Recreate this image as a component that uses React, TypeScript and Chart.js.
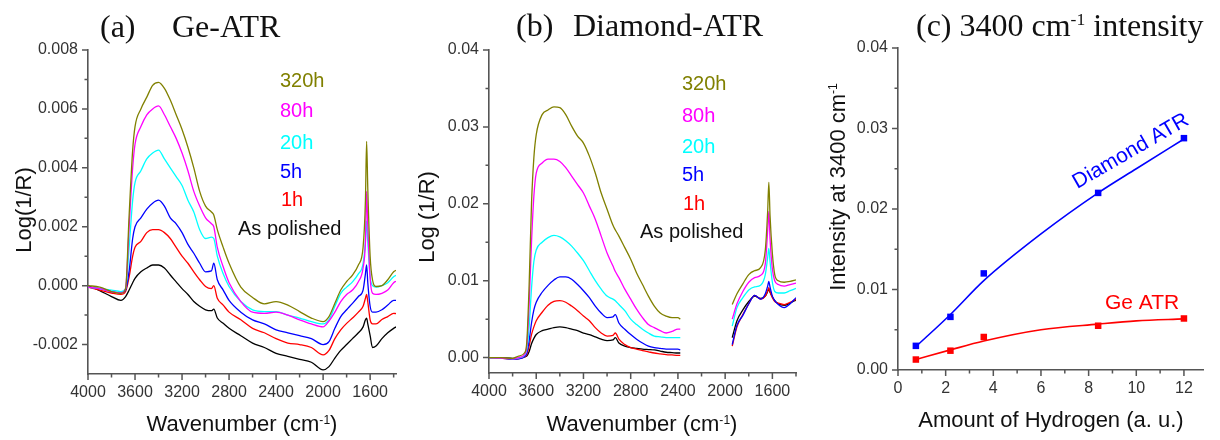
import React, { useEffect, useRef } from 'react';
import { Chart, registerables } from 'chart.js';

Chart.register(...registerables);

const SANS = "'Liberation Sans', Arial, sans-serif";
const SERIF = "'Liberation Serif', 'Times New Roman', serif";
const AXIS_COLOR = '#555555';
const TICK_COLOR = '#333333';

// ---------- shared series description ----------
const SERIES_LABELS = ['320h', '80h', '20h', '5h', '1h', 'As polished'];
const SERIES_COLORS = ['#808000', '#ff00ff', '#00ffff', '#0000ff', '#ff0000', '#000000'];

// ---------- (a) Ge-ATR, values in units of 1e-3 ----------
const GE_WN = [4000, 3900, 3800, 3720, 3680, 3650, 3620, 3600, 3550, 3500, 3450, 3400, 3350, 3300, 3250, 3200, 3150, 3100, 3050, 3000, 2950, 2930, 2900, 2850, 2800, 2700, 2600, 2500, 2400, 2300, 2200, 2100, 2000, 1950, 1900, 1850, 1800, 1750, 1700, 1660, 1640, 1630, 1620, 1600, 1580, 1550, 1500, 1450, 1400, 1380];
const GE_320H = [0, -0.05, -0.2, -0.26, -0.1, 2.4, 4.6, 5.4, 6.0, 6.4, 6.8, 6.9, 6.7, 6.3, 5.8, 5.3, 4.7, 4.0, 3.2, 2.7, 2.5, 2.4, 1.9, 1.3, 0.76, -0.05, -0.4, -0.62, -0.54, -0.66, -0.88, -1.1, -1.22, -1.05, -0.6, -0.15, 0.14, 0.36, 0.7, 1.3, 2.9, 4.9, 3.3, 1.0, 0.2, -0.03, 0.0, 0.2, 0.47, 0.52];
const GE_80H = [-0.05, -0.1, -0.2, -0.25, -0.1, 2.0, 4.0, 4.8, 5.4, 5.8, 6.0, 6.1, 5.8, 5.4, 5.0, 4.5, 3.9, 3.2, 2.7, 2.3, 2.1, 2.0, 1.3, 0.64, 0.1, -0.54, -0.9, -0.94, -0.9, -1.0, -1.16, -1.3, -1.4, -1.2, -0.9, -0.54, -0.3, -0.15, 0.13, 0.6, 1.5, 3.2, 2.0, 0.25, -0.26, -0.3, -0.26, -0.15, 0.1, 0.15];
const GE_20H = [-0.05, -0.1, -0.15, -0.2, -0.1, 1.3, 2.9, 3.5, 3.9, 4.3, 4.5, 4.6, 4.3, 4.0, 3.7, 3.4, 2.9, 2.5, 1.9, 1.6, 1.65, 1.6, 1.0, 0.4, -0.03, -0.54, -0.82, -0.88, -0.88, -1.0, -1.1, -1.22, -1.3, -1.15, -0.7, -0.26, -0.05, 0.13, 0.4, 0.75, 1.5, 2.2, 1.5, 0.3, 0.0, -0.05, 0.0, 0.1, 0.3, 0.35];
const GE_5H = [-0.05, -0.1, -0.2, -0.25, -0.15, 0.5, 1.6, 2.0, 2.3, 2.6, 2.8, 2.9, 2.7, 2.3, 2.1, 1.8, 1.4, 1.1, 0.76, 0.47, 0.5, 0.76, 0.2, -0.15, -0.5, -0.9, -1.16, -1.3, -1.5, -1.6, -1.7, -1.8, -2.0, -1.9, -1.45, -1.05, -0.82, -0.6, -0.37, -0.15, 0.4, 0.7, 0.1, -0.7, -0.9, -0.9, -0.82, -0.66, -0.5, -0.5];
const GE_1H = [-0.05, -0.15, -0.25, -0.3, -0.2, 0.3, 1.0, 1.3, 1.5, 1.8, 1.9, 1.9, 1.8, 1.6, 1.3, 1.0, 0.76, 0.47, 0.2, -0.03, -0.1, 0.0, -0.43, -0.66, -0.9, -1.16, -1.45, -1.6, -1.8, -1.95, -2.0, -2.1, -2.35, -2.2, -1.8, -1.5, -1.28, -1.1, -0.9, -0.7, -0.43, -0.3, -0.55, -1.16, -1.3, -1.3, -1.15, -1.05, -0.94, -0.95];
const GE_POLISHED = [0.0, -0.17, -0.37, -0.5, -0.37, -0.15, 0.1, 0.25, 0.47, 0.6, 0.7, 0.7, 0.6, 0.36, 0.13, -0.1, -0.3, -0.54, -0.7, -0.82, -0.85, -0.8, -1.1, -1.28, -1.45, -1.7, -1.95, -2.1, -2.3, -2.4, -2.5, -2.6, -2.86, -2.75, -2.46, -2.2, -2.0, -1.8, -1.6, -1.4, -1.16, -1.1, -1.3, -1.7, -2.1, -2.05, -1.8, -1.6, -1.45, -1.4];
const GE_X_TICKS = [4000, 3600, 3200, 2800, 2400, 2000, 1600];
const GE_X_MINOR = [3800, 3400, 3000, 2600, 2200, 1800, 1400];
const GE_Y_TICKS = [-0.002, 0, 0.002, 0.004, 0.006, 0.008];
const GE_Y_MINOR = [-0.001, 0.001, 0.003, 0.005, 0.007];

// ---------- (b) Diamond-ATR, values in units of 1e-3 (null = no data) ----------
const DIA_WN = [4000, 3900, 3800, 3750, 3700, 3680, 3660, 3640, 3620, 3600, 3550, 3500, 3450, 3400, 3350, 3300, 3250, 3200, 3150, 3100, 3050, 3000, 2950, 2930, 2900, 2850, 2800, 2750, 2700, 2650, 2600, 2550, 2500, 2450, 2400, 2380, 2160, 1940, 1900, 1850, 1800, 1750, 1700, 1660, 1640, 1630, 1620, 1600, 1580, 1550, 1500, 1450, 1400];
const DIA_320H = [0, 0, -0.1, 0.2, 0.6, 2.0, 9.5, 20, 26, 29, 31.6, 32.2, 32.6, 32.5, 31.6, 30.1, 28.8, 27.9, 26.2, 24.0, 21.4, 19.3, 17.2, 16.6, 15.8, 14.3, 12.8, 11.0, 9.5, 8.0, 6.7, 5.8, 5.4, 5.2, 5.2, 5.0, null, 6.9, 8.3, 9.6, 10.8, 11.3, 11.7, 14.0, 19.0, 22.8, 18.5, 13.5, 10.8, 10.0, 9.8, 9.9, 10.1];
const DIA_80H = [0, -0.05, -0.15, 0.0, 0.4, 1.5, 7, 15, 21, 24, 25.3, 25.8, 25.8, 25.5, 24.7, 23.6, 22.5, 21.4, 19.7, 18.0, 15.8, 13.6, 11.9, 11.2, 10.4, 8.9, 7.6, 6.3, 5.2, 4.3, 3.9, 3.5, 3.2, 3.4, 3.7, 3.7, null, 5.0, 7.0, 8.6, 9.8, 10.4, 10.7, 12.2, 16.5, 19.0, 15.5, 11.5, 10.0, 9.5, 9.3, 9.5, 9.7];
const DIA_20H = [0, -0.05, -0.15, -0.05, 0.3, 1.0, 4.0, 9.0, 12.5, 14.0, 15.0, 15.6, 15.9, 15.7, 15.2, 14.5, 13.6, 12.6, 11.3, 10.0, 8.9, 8.0, 7.6, 7.4, 6.9, 6.1, 5.0, 4.3, 3.7, 3.2, 2.8, 2.7, 2.6, 2.6, 2.6, 2.6, null, 4.1, 6.5, 7.8, 8.8, 9.2, 9.4, 10.8, 13.0, 14.2, 12.5, 9.8, 8.6, 8.4, 8.4, 8.7, 9.0];
const DIA_5H = [0, -0.05, -0.2, -0.15, 0.1, 0.6, 2.2, 4.5, 6.2, 7.2, 8.5, 9.4, 10.1, 10.5, 10.5, 10.2, 9.5, 8.7, 7.8, 6.7, 5.8, 5.2, 5.3, 5.6, 4.5, 3.7, 3.0, 2.4, 1.9, 1.5, 1.3, 1.2, 1.1, 1.1, 1.1, 1.0, null, 1.7, 4.2, 5.5, 7.0, 8.1, 7.6, 8.3, 9.3, 9.9, 9.2, 8.0, 7.4, 6.9, 6.5, 7.0, 7.8];
const DIA_1H = [0, -0.05, -0.2, -0.15, 0.1, 0.4, 1.5, 3.0, 4.0, 4.8, 5.9, 6.8, 7.3, 7.4, 7.2, 6.7, 6.1, 5.4, 4.8, 3.9, 3.2, 2.8, 2.9, 3.2, 2.4, 1.7, 1.3, 1.1, 0.9, 0.75, 0.6, 0.5, 0.4, 0.35, 0.3, 0.3, null, 1.5, 4.0, 5.6, 7.0, 8.1, 7.6, 8.0, 8.7, 9.1, 8.6, 7.8, 7.3, 7.1, 6.9, 7.2, 7.6];
const DIA_POLISHED = [0, 0, -0.1, -0.1, 0.1, 0.2, 0.8, 1.8, 2.5, 3.0, 3.5, 3.7, 3.9, 4.0, 3.9, 3.7, 3.5, 3.2, 3.0, 2.7, 2.4, 2.2, 2.3, 2.6, 1.9, 1.5, 1.3, 1.2, 1.1, 1.05, 1.0, 0.85, 0.7, 0.65, 0.6, 0.6, null, 2.6, 4.8, 6.2, 7.3, 8.0, 7.7, 8.0, 8.6, 8.9, 8.5, 7.9, 7.4, 7.0, 6.8, 7.1, 7.5];
const DIA_X_TICKS = [4000, 3600, 3200, 2800, 2400, 2000, 1600];
const DIA_X_MINOR = [3800, 3400, 3000, 2600, 2200, 1800, 1400];
const DIA_Y_TICKS = [0, 0.01, 0.02, 0.03, 0.04];
const DIA_Y_MINOR = [0.005, 0.015, 0.025, 0.035];

// ---------- (c) 3400 cm-1 intensity, values in units of 1e-3 ----------
const H_AMOUNT = [0.75, 2.2, 3.6, 8.4, 12.0];
const H_DIAMOND = [3.0, 6.6, 12.0, 22.0, 28.8];
const H_GE = [1.3, 2.4, 4.1, 5.5, 6.4];
const FIT_AMOUNT = [0.75, 2.2, 3.6, 6, 8.4, 10, 12.0];
const FIT_DIAMOND = [2.9, 6.9, 11.1, 16.9, 22.0, 25.0, 28.7];
const FIT_GE = [1.3, 2.5, 3.6, 5.0, 5.7, 6.1, 6.35];
const H_X_TICKS = [0, 2, 4, 6, 8, 10, 12];
const H_X_MINOR = [1, 3, 5, 7, 9, 11];
const H_Y_TICKS = [0, 0.01, 0.02, 0.03, 0.04];
const H_Y_MINOR = [0.005, 0.015, 0.025, 0.035];

// ---------- helpers ----------
type Part = [string, boolean?];

function drawRich(
  ctx: CanvasRenderingContext2D,
  parts: Part[],
  x: number,
  y: number,
  size: number,
  family: string,
  color: string,
  align: 'left' | 'center' = 'left',
  rot = 0,
  vCenter = false,
) {
  ctx.save();
  ctx.translate(x, y);
  ctx.rotate(rot);
  const supSize = size * 0.55;
  const widths = parts.map(([t, sup]) => {
    ctx.font = `${sup ? supSize : size}px ${family}`;
    return ctx.measureText(t).width;
  });
  const total = widths.reduce((a, b) => a + b, 0);
  let cx = align === 'center' ? -total / 2 : 0;
  const by = vCenter ? size * 0.35 : 0;
  ctx.fillStyle = color;
  ctx.textAlign = 'left';
  ctx.textBaseline = 'alphabetic';
  parts.forEach(([t, sup], i) => {
    ctx.font = `${sup ? supSize : size}px ${family}`;
    ctx.fillText(t, cx, sup ? by - size * 0.33 : by);
    cx += widths[i];
  });
  ctx.restore();
}

interface PanelSpec {
  top: number;
  right: number;
  yWidth: number;
  xHeight: number;
  xMin: number;
  xMax: number;
  reverse: boolean;
  xTicks: number[];
  xMinor: number[];
  xFmt: (v: number) => string;
  yMin: number;
  yMax: number;
  yTicks: number[];
  yMinor: number[];
  yFmt: (v: number) => string;
  datasets: any[];
  decorate: (ctx: CanvasRenderingContext2D) => void;
}

function buildConfig(p: PanelSpec): any {
  const tickFont = { family: SANS, size: 16 };
  const decor = {
    id: 'decor',
    afterDraw(chart: any) {
      const ctx: CanvasRenderingContext2D = chart.ctx;
      const { left, bottom } = chart.chartArea;
      const xs = chart.scales.x;
      const ys = chart.scales.y;
      ctx.save();
      ctx.strokeStyle = AXIS_COLOR;
      ctx.lineWidth = 1.5;
      ctx.beginPath();
      const xt = (vals: number[], len: number) =>
        vals.forEach((v) => {
          const px = xs.getPixelForValue(v);
          ctx.moveTo(px, bottom);
          ctx.lineTo(px, bottom + len);
        });
      const yt = (vals: number[], len: number) =>
        vals.forEach((v) => {
          const py = ys.getPixelForValue(v);
          ctx.moveTo(left, py);
          ctx.lineTo(left - len, py);
        });
      xt(p.xTicks, 6);
      xt(p.xMinor, 3.5);
      yt(p.yTicks, 6);
      yt(p.yMinor, 3.5);
      ctx.stroke();
      ctx.restore();
      p.decorate(ctx);
    },
  };
  return {
    type: 'line',
    data: { datasets: p.datasets },
    options: {
      animation: false,
      responsive: false,
      maintainAspectRatio: false,
      events: [],
      layout: { padding: { top: p.top, right: p.right, left: 0, bottom: 0 } },
      plugins: { legend: { display: false }, tooltip: { enabled: false }, title: { display: false } },
      scales: {
        x: {
          type: 'linear',
          min: p.xMin,
          max: p.xMax,
          reverse: p.reverse,
          grid: { display: false, drawTicks: false },
          border: { display: true, color: AXIS_COLOR, width: 1.6 },
          ticks: {
            color: TICK_COLOR,
            font: tickFont,
            padding: 9,
            maxRotation: 0,
            autoSkip: false,
            callback: (v: number) => p.xFmt(v),
          },
          afterBuildTicks: (s: any) => {
            s.ticks = p.xTicks.map((v) => ({ value: v }));
          },
          afterFit: (s: any) => {
            s.height = p.xHeight;
          },
        },
        y: {
          type: 'linear',
          min: p.yMin,
          max: p.yMax,
          grid: { display: false, drawTicks: false },
          border: { display: true, color: AXIS_COLOR, width: 1.6 },
          ticks: {
            color: TICK_COLOR,
            font: tickFont,
            padding: 10,
            autoSkip: false,
            callback: (v: number) => p.yFmt(v),
          },
          afterBuildTicks: (s: any) => {
            s.ticks = p.yTicks.map((v) => ({ value: v }));
          },
          afterFit: (s: any) => {
            s.width = p.yWidth;
          },
        },
      },
    },
    plugins: [decor],
  };
}

function spectrumDatasets(wn: number[], series: (number | null)[][]) {
  return series.map((s, i) => ({
    label: SERIES_LABELS[i],
    data: wn.map((w, j) => ({ x: w, y: s[j] == null ? null : (s[j] as number) / 1000 })),
    borderColor: SERIES_COLORS[i],
    borderWidth: 1.3,
    pointRadius: 0,
    fill: false,
    spanGaps: false,
    cubicInterpolationMode: 'monotone',
  }));
}

function drawSeriesLabels(ctx: CanvasRenderingContext2D, pos: number[][]) {
  ctx.save();
  ctx.font = `20px ${SANS}`;
  ctx.textAlign = 'left';
  ctx.textBaseline = 'middle';
  SERIES_LABELS.forEach((t, i) => {
    ctx.fillStyle = SERIES_COLORS[i] === '#000000' ? '#111111' : SERIES_COLORS[i];
    ctx.fillText(t, pos[i][0], pos[i][1]);
  });
  ctx.restore();
}

const geConfig = () =>
  buildConfig({
    top: 50,
    right: 14,
    yWidth: 88,
    xHeight: 66,
    xMin: 1380,
    xMax: 4000,
    reverse: true,
    xTicks: GE_X_TICKS,
    xMinor: GE_X_MINOR,
    xFmt: (v) => String(v),
    yMin: -0.003,
    yMax: 0.008,
    yTicks: GE_Y_TICKS,
    yMinor: GE_Y_MINOR,
    yFmt: (v) => v.toFixed(3),
    datasets: spectrumDatasets(GE_WN, [GE_320H, GE_80H, GE_20H, GE_5H, GE_1H, GE_POLISHED]),
    decorate: (ctx) => {
      drawRich(ctx, [['(a)']], 100, 37, 32, SERIF, '#111');
      drawRich(ctx, [['Ge-ATR']], 172, 37, 32, SERIF, '#111');
      drawRich(ctx, [['Log(1/R)']], 23, 210, 22, SANS, '#111', 'center', -Math.PI / 2, true);
      drawRich(ctx, [['Wavenumber (cm'], ['-1', true], [')']], 242, 431, 22, SANS, '#111', 'center');
      drawSeriesLabels(ctx, [[280, 81], [280, 111], [280, 143], [280, 172], [281, 200], [238, 229]]);
    },
  });

const diaConfig = () =>
  buildConfig({
    top: 50,
    right: 14,
    yWidth: 79,
    xHeight: 67,
    xMin: 1400,
    xMax: 4000,
    reverse: true,
    xTicks: DIA_X_TICKS,
    xMinor: DIA_X_MINOR,
    xFmt: (v) => String(v),
    yMin: -0.002,
    yMax: 0.04,
    yTicks: DIA_Y_TICKS,
    yMinor: DIA_Y_MINOR,
    yFmt: (v) => v.toFixed(2),
    datasets: spectrumDatasets(DIA_WN, [DIA_320H, DIA_80H, DIA_20H, DIA_5H, DIA_1H, DIA_POLISHED]),
    decorate: (ctx) => {
      drawRich(ctx, [['(b)']], 106, 36, 32, SERIF, '#111');
      drawRich(ctx, [['Diamond-ATR']], 163, 36, 32, SERIF, '#111');
      drawRich(ctx, [['Log (1/R)']], 16, 217, 22, SANS, '#111', 'center', -Math.PI / 2, true);
      drawRich(ctx, [['Wavenumber (cm'], ['-1', true], [')']], 232, 431, 22, SANS, '#111', 'center');
      drawSeriesLabels(ctx, [[272, 84], [272, 116], [272, 147], [272, 175], [273, 204], [230, 232]]);
    },
  });

const hConfig = () =>
  buildConfig({
    top: 48,
    right: 17,
    yWidth: 88,
    xHeight: 70,
    xMin: 0,
    xMax: 12.8,
    reverse: false,
    xTicks: H_X_TICKS,
    xMinor: H_X_MINOR,
    xFmt: (v) => String(v),
    yMin: 0,
    yMax: 0.04,
    yTicks: H_Y_TICKS,
    yMinor: H_Y_MINOR,
    yFmt: (v) => v.toFixed(2),
    datasets: [
      {
        label: 'Diamond fit',
        data: FIT_AMOUNT.map((x, i) => ({ x, y: FIT_DIAMOND[i] / 1000 })),
        borderColor: '#0000ff',
        borderWidth: 1.6,
        pointRadius: 0,
        cubicInterpolationMode: 'monotone',
      },
      {
        label: 'Ge fit',
        data: FIT_AMOUNT.map((x, i) => ({ x, y: FIT_GE[i] / 1000 })),
        borderColor: '#ff0000',
        borderWidth: 1.6,
        pointRadius: 0,
        cubicInterpolationMode: 'monotone',
      },
      {
        label: 'Diamond ATR',
        data: H_AMOUNT.map((x, i) => ({ x, y: H_DIAMOND[i] / 1000 })),
        showLine: false,
        pointStyle: 'rect',
        pointRadius: 4.6,
        pointBorderWidth: 0,
        pointBackgroundColor: '#0000ff',
        borderColor: '#0000ff',
      },
      {
        label: 'Ge ATR',
        data: H_AMOUNT.map((x, i) => ({ x, y: H_GE[i] / 1000 })),
        showLine: false,
        pointStyle: 'rect',
        pointRadius: 4.6,
        pointBorderWidth: 0,
        pointBackgroundColor: '#ff0000',
        borderColor: '#ff0000',
      },
    ],
    decorate: (ctx) => {
      drawRich(ctx, [['(c) 3400 cm'], ['-1', true], [' intensity']], 106, 36, 32, SERIF, '#111');
      drawRich(ctx, [['Intensity at 3400 cm'], ['-1', true]], 27, 187, 22, SANS, '#111', 'center', -Math.PI / 2, true);
      drawRich(ctx, [['Amount of Hydrogen (a. u.)']], 241, 427, 22, SANS, '#111', 'center');
      drawRich(ctx, [['Diamond ATR']], 320, 150, 21, SANS, '#0000ff', 'center', (-30 * Math.PI) / 180, true);
      drawRich(ctx, [['Ge ATR']], 295, 302, 21, SANS, '#ff0000', 'left', 0, true);
    },
  });

function Panel({ left, width, make }: { left: number; width: number; make: () => any }) {
  const ref = useRef<HTMLCanvasElement>(null);
  useEffect(() => {
    if (!ref.current) return;
    const chart = new Chart(ref.current, make());
    return () => chart.destroy();
  }, [make]);
  return (
    <canvas
      ref={ref}
      width={width}
      height={440}
      style={{ position: 'absolute', left, top: 0, width, height: 440, display: 'block' }}
    />
  );
}

export default function App() {
  useEffect(() => {
    document.body.style.margin = '0';
    document.body.style.background = '#ffffff';
  }, []);
  return (
    <div style={{ position: 'relative', width: 1220, height: 440, background: '#ffffff', overflow: 'hidden' }}>
      <Panel left={0} width={410} make={geConfig} />
      <Panel left={410} width={400} make={diaConfig} />
      <Panel left={810} width={410} make={hConfig} />
    </div>
  );
}
